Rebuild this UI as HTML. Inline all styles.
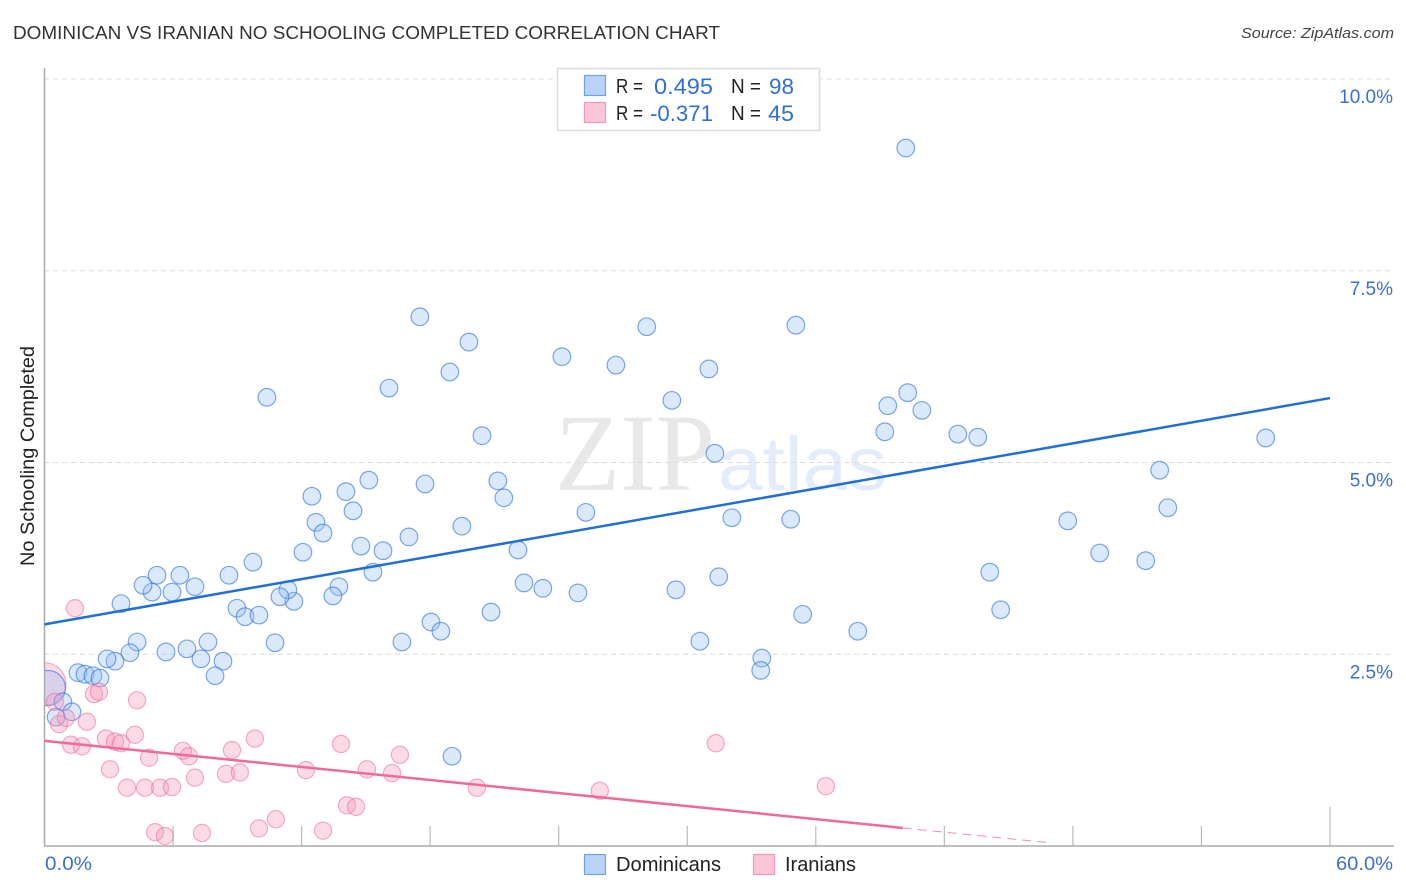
<!DOCTYPE html>
<html>
<head>
<meta charset="utf-8">
<title>Dominican vs Iranian No Schooling Completed Correlation Chart</title>
<style>
html,body{margin:0;padding:0;background:#fff;width:1406px;height:892px;overflow:hidden}
svg{display:block;font-family:"Liberation Sans",sans-serif}
</style>
</head>
<body>
<svg id="chart" width="1406" height="892" viewBox="0 0 1406 892" xmlns="http://www.w3.org/2000/svg">
  <text x="13" y="39" font-size="18" fill="#333" textLength="707" lengthAdjust="spacingAndGlyphs">DOMINICAN VS IRANIAN NO SCHOOLING COMPLETED CORRELATION CHART</text>
  <text x="1241" y="38" font-size="15" font-style="italic" fill="#444" textLength="153" lengthAdjust="spacingAndGlyphs">Source: ZipAtlas.com</text>
  <text x="555" y="490" font-family="'Liberation Serif',serif" font-size="110" fill="#e8e8e8" textLength="160" lengthAdjust="spacingAndGlyphs">ZIP</text>
  <text x="718" y="490" font-size="76" fill="#e3ecfa" textLength="169" lengthAdjust="spacingAndGlyphs">atlas</text>
  <g id="grid"></g>
  <g id="x-ticks"></g>
  <g id="y-labels"></g>
  <g id="x-labels"></g>
  <text transform="translate(34,456) rotate(-90)" font-size="19" fill="#222" text-anchor="middle" textLength="220" lengthAdjust="spacingAndGlyphs">No Schooling Completed</text>
  <svg x="44.5" y="60" width="1350" height="786" viewBox="44.5 60 1350 786" overflow="hidden">
    <g id="points"></g>
  </svg>
  <line x1="44.5" y1="68" x2="44.5" y2="846" stroke="#aaa" stroke-width="1.5"/>
  <line x1="44" y1="846" x2="1394" y2="846" stroke="#aaa" stroke-width="1.5"/>
  <g id="lines"></g>

  <g>
    <rect x="557.5" y="68.5" width="262" height="62" fill="#fff" stroke="#ddd" stroke-width="1.5"/>
    <rect x="584.5" y="75.5" width="21" height="20" fill="#b9d3f6" stroke="#6fa3e6" stroke-width="1.2"/>
    <rect x="584.5" y="102.5" width="21" height="20" fill="#fcc6d8" stroke="#f09ab8" stroke-width="1.2"/>
    <text x="616" y="93" font-size="20" fill="#222" textLength="27" lengthAdjust="spacingAndGlyphs">R =</text>
    <text x="654" y="94" font-size="22" fill="#2f6fd6" textLength="59" lengthAdjust="spacingAndGlyphs">0.495</text>
    <text x="731" y="93" font-size="20" fill="#222" textLength="30" lengthAdjust="spacingAndGlyphs">N =</text>
    <text x="769" y="94" font-size="22" fill="#2f6fd6" textLength="25" lengthAdjust="spacingAndGlyphs">98</text>
    <text x="616" y="120" font-size="20" fill="#222" textLength="27" lengthAdjust="spacingAndGlyphs">R =</text>
    <text x="650" y="121" font-size="22" fill="#2f6fd6" textLength="63" lengthAdjust="spacingAndGlyphs">-0.371</text>
    <text x="731" y="120" font-size="20" fill="#222" textLength="30" lengthAdjust="spacingAndGlyphs">N =</text>
    <text x="768" y="121" font-size="22" fill="#2f6fd6" textLength="26" lengthAdjust="spacingAndGlyphs">45</text>
  </g>

  <g>
    <rect x="584.5" y="854.5" width="21" height="20" fill="#b9d3f6" stroke="#6fa3e6" stroke-width="1.2"/>
    <text x="616" y="871" font-size="20" fill="#222" textLength="105" lengthAdjust="spacingAndGlyphs">Dominicans</text>
    <rect x="753.5" y="854.5" width="21" height="20" fill="#fcc6d8" stroke="#f09ab8" stroke-width="1.2"/>
    <text x="785" y="871" font-size="20" fill="#222" textLength="71" lengthAdjust="spacingAndGlyphs">Iranians</text>
  </g>
</svg>
<script>
const yTickValues = [2.5, 5, 7.5, 10];
const yTickLabels = ["2.5%", "5.0%", "7.5%", "10.0%"];
const xTickValues = [6, 12, 18, 24, 30, 36, 42, 48, 54, 60];
const xEndValues = [0, 60];
const xEndLabels = ["0.0%", "60.0%"];

const dominicanX = [40.20,57.00,52.05,52.43,51.40,49.25,47.76,44.12,44.63,43.56,42.63,40.95,40.29,39.36,39.22,35.07,31.01,29.28,28.11,26.67,24.15,19.81,18.92,17.52,16.08,10.38,20.42,31.29,32.08,34.83,25.27,22.10,21.16,21.44,19.48,17.76,17.01,15.14,14.07,14.40,12.48,12.67,13.00,12.06,14.77,15.80,15.33,13.74,13.46,11.64,11.36,10.99,9.73,8.61,8.98,9.36,10.01,7.02,6.32,5.95,5.25,5.02,4.60,3.57,4.32,3.99,3.29,2.92,5.67,6.65,7.30,7.63,8.33,7.96,10.76,16.68,18.04,18.50,20.84,22.38,23.26,24.90,29.47,31.47,35.39,37.96,30.59,33.48,33.43,19.02,1.56,1.89,2.26,2.59,0.86,1.28,0.54];
const dominicanY = [9.10,5.32,4.90,4.41,3.72,3.82,4.24,3.57,3.08,5.33,5.37,5.68,5.91,5.74,5.40,6.79,6.22,5.81,6.77,6.27,6.38,6.57,6.18,6.90,5.97,5.85,5.35,5.12,4.28,4.26,4.35,3.86,4.76,4.54,4.17,4.72,4.03,4.77,4.62,4.37,4.56,4.22,4.08,3.83,3.91,3.85,3.57,3.38,3.26,3.19,3.34,3.25,3.70,3.53,3.10,2.99,3.01,3.38,3.53,3.31,3.53,3.31,3.40,3.16,2.66,2.52,2.41,2.44,2.53,2.57,2.44,2.66,2.41,2.22,2.65,2.66,2.92,2.80,3.05,3.43,3.36,3.30,3.34,3.51,3.02,2.80,2.67,2.45,2.29,1.17,2.26,2.24,2.22,2.19,1.88,1.75,1.68];
const dominicanClusterX = [0.16];
const dominicanClusterY = [2.06];

const iranianX = [2.31,2.54,4.32,1.98,0.68,1.00,0.49,1.24,1.75,2.87,3.29,3.57,4.22,4.88,3.06,3.85,4.69,5.39,5.95,7.02,6.46,6.74,8.75,9.82,8.47,9.12,5.16,5.62,7.35,10.01,10.80,1.42,13.00,13.84,12.20,15.05,16.22,16.59,14.12,14.54,20.18,25.92,31.33,36.47];
const iranianY = [1.98,2.01,1.90,1.62,1.59,1.67,1.88,1.32,1.30,1.40,1.36,1.34,1.45,1.15,1.00,0.76,0.76,0.76,0.77,0.89,1.24,1.17,1.25,1.40,0.94,0.96,0.18,0.13,0.17,0.23,0.35,3.10,0.20,1.33,0.99,1.00,0.95,1.19,0.53,0.51,0.76,0.72,1.34,0.78];
const iranianClusterX = [0.00];
const iranianClusterY = [2.11];

const dominicanTrendX = [0, 60];
const dominicanTrendY = [2.89, 5.84];
const iranianTrendX = [0, 40.06];
const iranianTrendY = [1.37, 0.235];
const iranianProjectionX = [40.06, 47.0];
const iranianProjectionY = [0.235, 0.04];

const NS = "http://www.w3.org/2000/svg";
const xScale = v => 44.5 + v * (1330 - 44.5) / 60;
const yScale = v => 846 - v * 76.7;

function make(tag, attrs, parent) {
  const el = document.createElementNS(NS, tag);
  for (const k in attrs) el.setAttribute(k, attrs[k]);
  parent.appendChild(el);
  return el;
}

const grid = document.getElementById("grid");
yTickValues.forEach(v => {
  const el = make("line", {x1: 44, x2: 1394, y1: yScale(v), y2: yScale(v), stroke: "#dcdcdc", "stroke-width": 1, "stroke-dasharray": "5 4"}, grid);
  
  
});

const xTicksGroup = document.getElementById("x-ticks");
xTickValues.forEach(v => {
  const top = v === 60 ? 807 : 826;
  const el = make("line", {x1: xScale(v), x2: xScale(v), y1: top, y2: 846, stroke: "#bbb", "stroke-width": 1.2}, xTicksGroup);
  
  
});

const yLabelsGroup = document.getElementById("y-labels");
yTickValues.forEach((v, i) => {
  const el = make("text", {x: 1393, y: yScale(v) + 24, "font-size": 19, fill: "#3b6fd1", "text-anchor": "end"}, yLabelsGroup);
  el.textContent = yTickLabels[i];
  
  
});

const xLabelsGroup = document.getElementById("x-labels");
xEndValues.forEach((v, i) => {
  const el = make("text", {x: v === 0 ? 45 : 1336, y: 870, "font-size": 19, fill: "#3b6fd1", textLength: v === 0 ? 47 : 57, lengthAdjust: "spacingAndGlyphs"}, xLabelsGroup);
  el.textContent = xEndLabels[i];
  
  
});

const pts = document.getElementById("points");
const pinkStyle = {fill: "rgba(245,150,185,0.34)", stroke: "rgba(235,110,155,0.55)", "stroke-width": 1.2};
const blueStyle = {fill: "rgba(150,190,245,0.34)", stroke: "rgba(40,110,220,0.6)", "stroke-width": 1.2};

function drawPoints(xs, ys, r, style, name) {
  xs.forEach((x, i) => {
    const el = make("circle", Object.assign({cx: xScale(x), cy: yScale(ys[i]), r: r}, style), pts);
    
    
  });
}
drawPoints(iranianClusterX, iranianClusterY, 21.5, pinkStyle, "iranian-cluster-point");
drawPoints(dominicanClusterX, dominicanClusterY, 17.5, blueStyle, "dominican-cluster-point");
drawPoints(dominicanX, dominicanY, 8.8, blueStyle, "dominican-point");
drawPoints(iranianX, iranianY, 8.6, pinkStyle, "iranian-point");

const lines = document.getElementById("lines");
const blueLine = make("line", {x1: xScale(dominicanTrendX[0]), y1: yScale(dominicanTrendY[0]), x2: xScale(dominicanTrendX[1]), y2: yScale(dominicanTrendY[1]), stroke: "#1f6fd6", "stroke-width": 2.5}, lines);


const pinkLine = make("line", {x1: xScale(iranianTrendX[0]), y1: yScale(iranianTrendY[0]), x2: xScale(iranianTrendX[1]), y2: yScale(iranianTrendY[1]), stroke: "#ee6a9b", "stroke-width": 2.5}, lines);


const pinkDash = make("line", {x1: xScale(iranianProjectionX[0]), y1: yScale(iranianProjectionY[0]), x2: xScale(iranianProjectionX[1]), y2: yScale(iranianProjectionY[1]), stroke: "#ee8fb2", "stroke-width": 1, "stroke-dasharray": "9 6"}, lines);


</script>
</body>
</html>
